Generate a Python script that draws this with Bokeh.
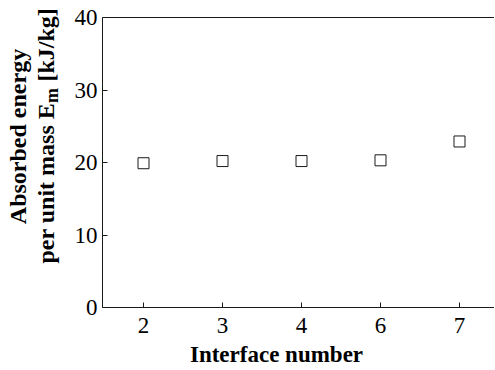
import math
from bokeh.plotting import figure
from bokeh.models import Range1d, FixedTicker, Label, LinearAxis
from bokeh.embed import file_html
from bokeh.resources import INLINE

# ---- data ----
interfaces = ["2", "3", "4", "6", "7"]
energy = [19.9, 20.2, 20.2, 20.3, 22.9]
y_ticks = [0, 10, 20, 30, 40]

xpos = list(range(len(interfaces)))

# ---- layout constants (pixels) ----
W, H = 494, 368
FRAME_L, FRAME_T, FRAME_B = 102, 17, 307
FIRST_TICK_PX, STEP_PX = 143, 79
Y_MAX = 40

FONT = "Liberation Serif"
INK = "#1a1a1a"

px_per_y = (FRAME_B - FRAME_T) / Y_MAX
y_lo = -(H - FRAME_B) / px_per_y
y_hi = Y_MAX + FRAME_T / px_per_y
x_lo = -FIRST_TICK_PX / STEP_PX
x_hi = (W - FIRST_TICK_PX) / STEP_PX
x_axis_start = (FRAME_L - FIRST_TICK_PX) / STEP_PX

p = figure(width=W, height=H, output_backend="svg", toolbar_location=None,
           x_range=Range1d(x_lo, x_hi), y_range=Range1d(y_lo, y_hi),
           x_axis_location=None, y_axis_location=None, min_border=0)
p.xgrid.visible = False
p.ygrid.visible = False
p.outline_line_color = None

p.scatter(xpos, energy, marker="square", size=11, fill_color="white",
          line_color=INK, line_width=1)


def style(ax):
    ax.axis_line_color = INK
    ax.axis_line_width = 1
    ax.major_tick_line_color = INK
    ax.major_tick_in = 5
    ax.major_tick_out = 0
    ax.minor_tick_line_color = None
    ax.major_label_text_font = FONT
    ax.major_label_text_font_size = "23px"
    ax.major_label_text_color = "black"


xaxis = LinearAxis(fixed_location=0, bounds=(x_axis_start, x_hi),
                   ticker=FixedTicker(ticks=xpos),
                   major_label_overrides={i: lab for i, lab in zip(xpos, interfaces)},
                   major_label_standoff=10)
style(xaxis)
p.add_layout(xaxis, "below")

yaxis = LinearAxis(fixed_location=x_axis_start, bounds=(0, Y_MAX),
                   ticker=FixedTicker(ticks=y_ticks), major_label_standoff=5)
style(yaxis)
p.add_layout(yaxis, "left")

top = LinearAxis(fixed_location=Y_MAX, bounds=(x_axis_start, x_hi),
                 ticker=FixedTicker(ticks=[]), major_label_text_font_size="0px")
style(top)
p.add_layout(top, "above")

common = dict(x_units="screen", y_units="screen", text_font=FONT,
              text_font_style="bold", text_color="black",
              text_baseline="alphabetic")
rot = dict(angle=math.pi / 2, **common)

# x-axis title
p.add_layout(Label(x=276, y=H - 354, text="Interface number", text_align="center",
                   text_font_size="23px", **common))

# y-axis title, two rotated lines
p.add_layout(Label(x=17, y=H - 136, text="Absorbed energy", text_align="center",
                   text_font_size="24px", **rot))
p.add_layout(Label(x=45, y=H - 263, text="per unit mass E", text_align="left",
                   text_font_size="24px", **rot))
p.add_layout(Label(x=51, y=H - 102.5, text="m", text_align="left",
                   text_font_size="18px", **rot))
p.add_layout(Label(x=45, y=H - 81, text="[kJ/kg]", text_align="left",
                   text_font_size="24px", **rot))

open("out.html", "w").write(file_html(p, INLINE))
